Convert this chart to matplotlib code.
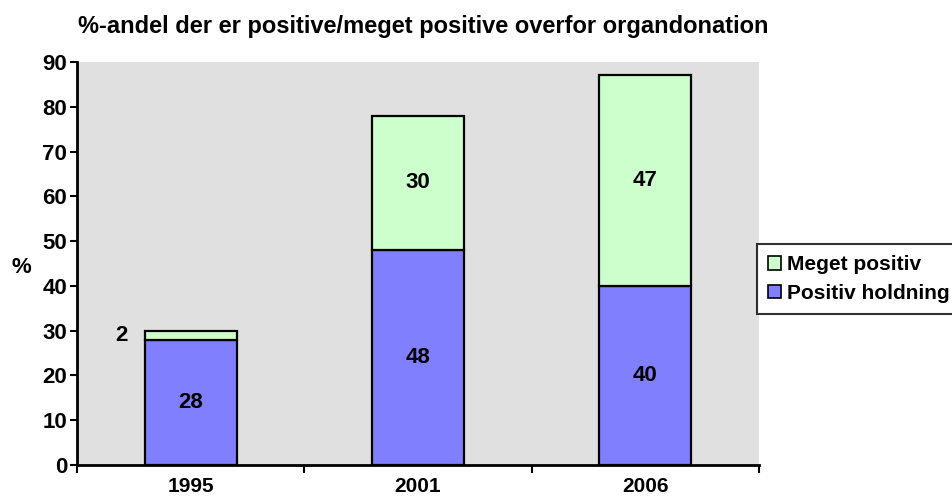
import matplotlib.pyplot as plt
import numpy as np

plt.rcParams['font.family'] = ['Liberation Sans', 'DejaVu Sans']
plt.rcParams['font.weight'] = 'bold'

years = ['1995', '2001', '2006']
positiv_holdning = [28, 48, 40]
meget_positiv = [2, 30, 47]

x = np.arange(len(years))
w = 0.405

fig = plt.figure(figsize=(9.52, 4.98), dpi=100)
ax = fig.add_axes([77/952, 1-465/498, (759-77)/952, (465-62)/498])
ax.set_facecolor('#e0e0e0')

b1 = ax.bar(x, positiv_holdning, w, color='#8080ff', edgecolor='black', linewidth=1.6,
            label='Positiv holdning', zorder=3)
b2 = ax.bar(x, meget_positiv, w, bottom=positiv_holdning, color='#ccffcc', edgecolor='black',
            linewidth=1.6, label='Meget positiv', zorder=3)

for i in range(len(years)):
    ax.text(x[i], positiv_holdning[i] / 2, str(positiv_holdning[i]), ha='center', va='center',
            fontsize=16, fontweight='bold', zorder=4)
    top = positiv_holdning[i] + meget_positiv[i] / 2
    if meget_positiv[i] < 5:
        # small segment: label sits left of the bar
        ax.text(x[i] - w / 2 - 0.1, top, str(meget_positiv[i]), ha='center', va='center',
                fontsize=16, fontweight='bold', zorder=4)
    else:
        ax.text(x[i], top, str(meget_positiv[i]), ha='center', va='center',
                fontsize=16, fontweight='bold', zorder=4)

ax.set_xlim(-0.5, 2.5)
ax.set_ylim(0, 90)
ax.set_yticks(range(0, 91, 10))
ax.tick_params(axis='y', labelsize=16, width=1.5, length=5, direction='out', pad=2)
ax.set_xticks([-0.5, 0.5, 1.5, 2.5])
ax.set_xticklabels([])
ax.set_xticks(x, minor=True)
ax.set_xticklabels(years, minor=True)
ax.tick_params(axis='x', which='major', width=1.5, length=6, direction='out')
ax.tick_params(axis='x', which='minor', length=0, labelsize=15, pad=9)

for s in ['top', 'right']:
    ax.spines[s].set_visible(False)
for s in ['left', 'bottom']:
    ax.spines[s].set_linewidth(2)

ax.set_ylabel('%', rotation=0, fontsize=16, fontweight='bold', ha='center', va='center')
ax.yaxis.set_label_coords(-0.082, 0.49)
fig.text(78/952, 1-27/498, '%-andel der er positive/meget positive overfor organdonation',
         fontsize=17, fontweight='bold', ha='left', va='center')

leg = fig.legend(handles=[b2, b1], loc='upper left', bbox_to_anchor=(757/952, 1-244/498),
                 borderaxespad=0, fontsize=15, frameon=True, fancybox=False,
                 handlelength=0.6, handleheight=0.6, handletextpad=0.3,
                 borderpad=0.55, labelspacing=0.45)
leg.get_frame().set_edgecolor('black')
leg.get_frame().set_linewidth(1.5)
for h in leg.legend_handles:
    h.set_linewidth(1.2)

fig.savefig('out.png', dpi=100)
